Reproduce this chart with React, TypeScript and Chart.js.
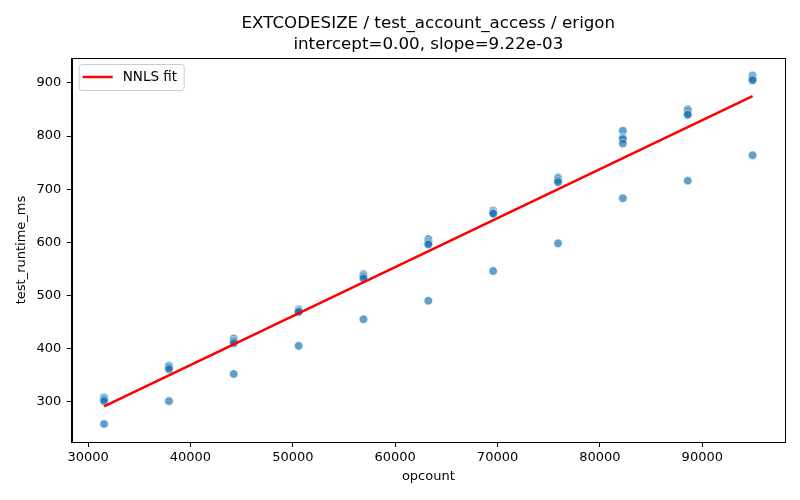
import React, { useEffect, useRef } from 'react';
import { Chart, registerables, Plugin } from 'chart.js';

Chart.register(...registerables);

// opcount per benchmark size
const opcounts = [31560, 37900, 44230, 50570, 56900, 63240, 69570, 75910, 82240, 88580, 94910];

// measured runtimes (ms) for each opcount, same order as opcounts
const runtimeMs: number[][] = [
  [308, 306, 304, 301, 258],
  [368, 366, 364, 361, 301],
  [419, 415, 413, 410, 352],
  [474, 472, 470, 469, 405],
  [540, 537, 535, 532, 455],
  [606, 601, 598, 596, 490],
  [660, 657, 655, 654, 546],
  [722, 719, 716, 713, 598],
  [810, 797, 794, 786, 683],
  [850, 846, 842, 840, 716],
  [914, 910, 907, 905, 764],
];

// NNLS fit end points
const fitX = [31560, 94910];
const fitY = [291, 875];

const xTicks = [30000, 40000, 50000, 60000, 70000, 80000, 90000];
const yTicks = [300, 400, 500, 600, 700, 800, 900];

const titleLines = ['EXTCODESIZE / test_account_access / erigon', 'intercept=0.00, slope=9.22e-03'];

const FONT = 'DejaVu Sans';

// draws the title over the axes, the box round the plot and the legend
const framePlugin: Plugin = {
  id: 'frame',
  afterDatasetsDraw(chart) {
    const { ctx, chartArea } = chart;
    ctx.save();
    ctx.strokeStyle = '#000';
    ctx.lineWidth = 1;
    ctx.strokeRect(
      Math.round(chartArea.left) + 0.5,
      Math.round(chartArea.top) + 0.5,
      Math.round(chartArea.right - chartArea.left),
      Math.round(chartArea.bottom - chartArea.top)
    );

    // title, centred over the axes
    const cx = (chartArea.left + chartArea.right) / 2;
    ctx.fillStyle = '#000';
    ctx.font = `16.7px "${FONT}"`;
    ctx.textAlign = 'center';
    ctx.textBaseline = 'alphabetic';
    ctx.fillText(titleLines[0], cx, 28.3);
    ctx.fillText(titleLines[1], cx, 49);

    // legend
    const lx = chartArea.left + 7;
    const ly = chartArea.top + 6;
    const w = 105;
    const h = 26;
    ctx.beginPath();
    ctx.roundRect(lx + 0.5, ly + 0.5, w, h, 3);
    ctx.fillStyle = 'rgba(255,255,255,0.8)';
    ctx.fill();
    ctx.strokeStyle = '#cccccc';
    ctx.lineWidth = 1;
    ctx.stroke();
    ctx.beginPath();
    ctx.moveTo(lx + 4, ly + 13);
    ctx.lineTo(lx + 34, ly + 13);
    ctx.strokeStyle = 'red';
    ctx.lineWidth = 2.5;
    ctx.stroke();
    ctx.fillStyle = '#000';
    ctx.font = `13.5px "${FONT}"`;
    ctx.textBaseline = 'middle';
    ctx.textAlign = 'left';
    ctx.fillText('NNLS fit', lx + 44, ly + 13.5);
    ctx.restore();
  },
};

export default function App() {
  const canvasRef = useRef<HTMLCanvasElement>(null);

  useEffect(() => {
    if (!canvasRef.current) return;
    const points = opcounts.flatMap((x, i) => runtimeMs[i].map((y) => ({ x, y })));
    const fit = fitX.map((x, i) => ({ x, y: fitY[i] }));

    const chart = new Chart(canvasRef.current, {
      type: 'scatter',
      data: {
        datasets: [
          {
            type: 'line',
            label: 'NNLS fit',
            data: fit,
            borderColor: 'red',
            borderWidth: 2.5,
            pointRadius: 0,
            fill: false,
          },
          {
            label: 'runs',
            data: points,
            backgroundColor: 'rgba(31,119,180,0.7)',
            borderColor: 'rgba(255,255,255,0.7)',
            borderWidth: 0.8,
            pointRadius: 4.3,
          },
        ],
      },
      options: {
        animation: false,
        responsive: false,
        layout: { padding: { left: 0, right: 15, top: 58, bottom: 0 } },
        plugins: {
          legend: { display: false },
          tooltip: { enabled: false },
          title: { display: false },
        },
        scales: {
          x: {
            type: 'linear',
            min: 28400,
            max: 98080,
            afterBuildTicks: (scale) => {
              scale.ticks = xTicks.map((value) => ({ value }));
            },
            afterFit: (scale) => {
              scale.height = 58;
            },
            grid: { drawOnChartArea: false, drawTicks: true, tickLength: 5, color: '#000' },
            border: { display: true, color: '#000' },
            ticks: {
              color: '#000',
              padding: 3,
              maxRotation: 0,
              font: { family: FONT, size: 13 },
              callback: (v) => String(v),
            },
            title: {
              display: true,
              text: 'opcount',
              color: '#000',
              font: { family: FONT, size: 13 },
              padding: { top: 0, bottom: 15.5 },
            },
          },
          y: {
            type: 'linear',
            min: 224,
            max: 947,
            afterBuildTicks: (scale) => {
              scale.ticks = yTicks.map((value) => ({ value }));
            },
            afterFit: (scale) => {
              scale.width = 71.7;
            },
            grid: { drawOnChartArea: false, drawTicks: true, tickLength: 5, color: '#000' },
            border: { display: true, color: '#000' },
            ticks: {
              color: '#000',
              padding: 5.5,
              font: { family: FONT, size: 13 },
              callback: (v) => String(v),
            },
            title: {
              display: true,
              text: 'test_runtime_ms',
              color: '#000',
              font: { family: FONT, size: 13 },
              padding: { top: 14, bottom: 0 },
            },
          },
        },
      },
      plugins: [framePlugin],
    });

    return () => chart.destroy();
  }, []);

  return (
    <div style={{ position: 'fixed', left: 0, top: 0, width: 800, height: 500, background: '#fff' }}>
      <canvas ref={canvasRef} width={800} height={500} />
    </div>
  );
}
